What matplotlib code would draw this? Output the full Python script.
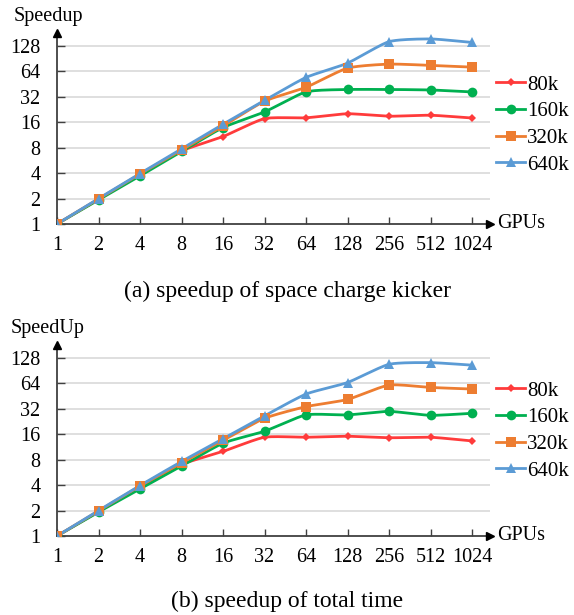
import numpy as np
import matplotlib
matplotlib.use("Agg")
import matplotlib.pyplot as plt

plt.rcParams['font.family'] = ['Liberation Serif', 'DejaVu Serif']
plt.rcParams['mathtext.fontset'] = 'stix'

gpus = ["1", "2", "4", "8", "16", "32", "64", "128", "256", "512", "1024"]
series_names = ["80k", "160k", "320k", "640k"]

# (a) speedup of space charge kicker
kicker_80k = [1, 1.97, 3.85, 7.3, 10.8, 17.6, 18.0, 20.1, 18.8, 19.3, 17.9]
kicker_160k = [1, 1.93, 3.7, 7.2, 13.8, 21.1, 36.4, 38.9, 38.9, 38.4, 36.4]
kicker_320k = [1, 1.98, 3.9, 7.5, 14.4, 28.3, 41.3, 69.6, 77.6, 75.0, 71.5]
kicker_640k = [1, 2.0, 3.95, 7.7, 15.1, 28.9, 54.0, 79.7, 143.0, 154.0, 140.0]

# (b) speedup of total time
total_80k = [1, 1.95, 3.8, 7.0, 10.0, 14.7, 14.7, 15.1, 14.5, 14.7, 13.3]
total_160k = [1, 1.92, 3.6, 6.7, 12.5, 17.3, 27.0, 27.0, 29.7, 26.7, 28.2]
total_320k = [1, 1.98, 3.9, 7.3, 13.5, 24.6, 33.8, 41.1, 60.8, 57.0, 54.6]
total_640k = [1, 2.0, 3.95, 7.6, 14.1, 26.3, 47.6, 65.2, 107.0, 112.0, 104.6]

yticks = [1, 2, 4, 8, 16, 32, 64, 128]
colors = ["#FF3B3B", "#00B050", "#ED7D31", "#5B9BD5"]
markers = ["D", "o", "s", "^"]
msizes = [4.5, 7, 6.5, 7]

FS_TICK = 14.5
FS_LEG = 15
FS_CAP = 17


def smooth(x, y, n=20):
    # Catmull-Rom style smoothing of the drawn line (display only)
    x = np.asarray(x, float)
    y = np.asarray(y, float)
    px = np.concatenate([[2 * x[0] - x[1]], x, [2 * x[-1] - x[-2]]])
    py = np.concatenate([[2 * y[0] - y[1]], y, [2 * y[-1] - y[-2]]])
    ox, oy = [], []
    t = np.linspace(0, 1, n, endpoint=False)
    for i in range(1, len(px) - 2):
        for arr, out in ((px, ox), (py, oy)):
            p0, p1, p2, p3 = arr[i - 1], arr[i], arr[i + 1], arr[i + 2]
            m1 = (p2 - p0) / 2 * 0.6
            m2 = (p3 - p1) / 2 * 0.6
            h00 = 2 * t**3 - 3 * t**2 + 1
            h10 = t**3 - 2 * t**2 + t
            h01 = -2 * t**3 + 3 * t**2
            h11 = t**3 - t**2
            out.extend(h00 * p1 + h10 * m1 + h01 * p2 + h11 * m2)
    ox.append(x[-1])
    oy.append(y[-1])
    return np.array(ox), np.array(oy)


fig = plt.figure(figsize=(5.74, 6.15), dpi=100)

W, H = 574, 615


def make_axes(bottom_px, top_px, data, ylabel, caption, cap_y, leg_top):
    left_px, right_px = 57, 490
    ax = fig.add_axes([left_px / W, 1 - bottom_px / H, (right_px - left_px) / W,
                       (bottom_px - top_px) / H])
    xs = np.arange(len(gpus))
    lines = []
    for vals, c, m, ms, name in zip(data, colors, markers, msizes, series_names):
        ly = np.log2(vals)
        sx, sy = smooth(xs, ly)
        ax.plot(sx, 2 ** sy, color=c, lw=2, zorder=3, solid_capstyle='round')
        ax.plot(xs, vals, linestyle='none', marker=m, color=c, markersize=ms,
                markeredgewidth=0, zorder=4)
        h, = ax.plot([], [], color=c, lw=2, marker=m, markersize=ms, markeredgewidth=0)
        lines.append(h)
    ax.set_yscale('log', base=2)
    ax.set_ylim(1, 2 ** 7.5)
    ax.set_xlim(0, (right_px - left_px) / 41.5)
    ax.set_yticks(yticks)
    ax.set_yticklabels([str(v) for v in yticks])
    ax.minorticks_off()
    ax.set_xticks(xs)
    ax.set_xticklabels(gpus)
    for v in yticks[1:]:
        ax.axhline(v, color="#D9D9D9", lw=1.2, zorder=1)
    for s in ['top', 'right']:
        ax.spines[s].set_visible(False)
    for s in ['left', 'bottom']:
        ax.spines[s].set_color('#404040')
        ax.spines[s].set_linewidth(1.3)
    ax.tick_params(axis='x', direction='in', length=5, width=1, color='#404040',
                   labelsize=FS_TICK, pad=9)
    ax.tick_params(axis='y', direction='in', length=6, width=1, color='#404040',
                   labelsize=FS_TICK, pad=12)
    ax.plot(1.0, 0, marker='>', transform=ax.transAxes, clip_on=False,
            color='black', markersize=6, zorder=5)
    ax.plot(0, 1.0, marker='^', transform=ax.transAxes, clip_on=False,
            color='black', markersize=6, zorder=5)
    fig.text(48 / W, 1 - (top_px - 16) / H, ylabel, fontsize=FS_TICK, ha='center', va='center')
    fig.text(497 / W, 1 - bottom_px / H, "GPUs", fontsize=FS_TICK, ha='left', va='center')
    fig.text(287 / W, 1 - cap_y / H, caption, fontsize=FS_CAP, ha='center', va='center')
    fig.legend(lines, series_names, loc='upper left',
               bbox_to_anchor=(496 / W, 1 - leg_top / H), frameon=False,
               fontsize=FS_LEG, handlelength=1.4, handletextpad=0.1,
               labelspacing=0.34, borderaxespad=0, borderpad=0)
    return ax


make_axes(224, 33, [kicker_80k, kicker_160k, kicker_320k, kicker_640k],
          "Speedup", "(a) speedup of space charge kicker", 291, 75)
make_axes(536, 345, [total_80k, total_160k, total_320k, total_640k],
          "SpeedUp", "(b) speedup of total time", 601, 381)

fig.savefig("out.png", dpi=100)
